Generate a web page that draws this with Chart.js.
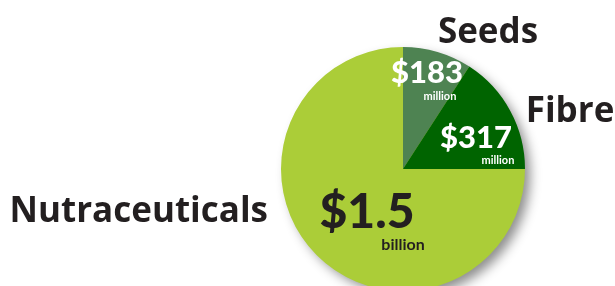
<!DOCTYPE html>
<html>
<head>
<meta charset="utf-8">
<script src="https://cdn.jsdelivr.net/npm/chart.js@4"></script>
<style>
  html, body { margin: 0; padding: 0; background: #fff; overflow: hidden; }
  #wrap { width: 615px; height: 300px; }
</style>
</head>
<body>
<div id="wrap"><canvas id="pie" width="615" height="300"></canvas></div>
<script>
// ── Data ──────────────────────────────────────────────────────
const categories = ['Seeds', 'Fibre', 'Nutraceuticals'];
const valuesMillions = [183, 317, 1500];
const sliceColors = ['#4e8352', '#006400', '#abcd38'];

// ── Label placement (relative to pie centre) ─────────────────
const INK = '#231f20';
const labelLayout = [
  { cat: [85, -136, 'center'], val: [24, -96], unit: [37, -73], valColor: '#fff', valSize: 31, unitSize: 11 },
  { cat: [167, -57, 'center'], val: [73, -31], unit: [95, -9], valColor: '#fff', valSize: 31, unitSize: 11 },
  { cat: [-135, 43, 'right'], val: [-36, 44], unit: [0, 76], valColor: INK, valSize: 48, unitSize: 16 },
];

function formatValue(m) {
  if (m >= 1000) return { num: '$' + (m / 1000).toFixed(1), unit: 'billion' };
  return { num: '$' + m, unit: 'million' };
}

// soft drop shadow behind the whole pie
const pieShadow = {
  id: 'pieShadow',
  beforeDatasetsDraw(chart) {
    const arc = chart.getDatasetMeta(0).data[0];
    if (!arc) return;
    const { ctx } = chart;
    ctx.save();
    ctx.shadowColor = 'rgba(0,0,0,0.45)';
    ctx.shadowBlur = 12;
    ctx.shadowOffsetX = 6;
    ctx.shadowOffsetY = 6;
    ctx.fillStyle = sliceColors[2];
    ctx.beginPath();
    ctx.arc(arc.x, arc.y, arc.outerRadius - 1, 0, Math.PI * 2);
    ctx.fill();
    ctx.restore();
  },
};

const pieLabels = {
  id: 'pieLabels',
  afterDatasetsDraw(chart) {
    const { ctx } = chart;
    const arc = chart.getDatasetMeta(0).data[0];
    const cx = arc.x, cy = arc.y;
    ctx.save();
    ctx.textBaseline = 'middle';
    categories.forEach((name, i) => {
      const L = labelLayout[i];
      const v = formatValue(valuesMillions[i]);
      // category name
      ctx.fillStyle = INK;
      ctx.textAlign = L.cat[2];
      ctx.font = '700 35px "Open Sans"';
      ctx.fillText(name, cx + L.cat[0], cy + L.cat[1]);
      // value
      ctx.fillStyle = L.valColor;
      ctx.textAlign = 'center';
      ctx.font = '900 ' + L.valSize + 'px Lato';
      ctx.fillText(v.num, cx + L.val[0], cy + L.val[1]);
      ctx.font = '700 ' + L.unitSize + 'px Lato';
      ctx.fillText(v.unit, cx + L.unit[0], cy + L.unit[1]);
    });
    ctx.restore();
  },
};

new Chart(document.getElementById('pie'), {
  type: 'pie',
  data: {
    labels: categories,
    datasets: [{
      data: valuesMillions,
      backgroundColor: sliceColors,
      borderWidth: 0,
    }],
  },
  options: {
    responsive: false,
    animation: false,
    layout: { padding: { left: 281, right: 90, top: 47, bottom: 9 } },
    plugins: { legend: { display: false }, tooltip: { enabled: false } },
  },
  plugins: [pieShadow, pieLabels],
});
</script>
</body>
</html>
